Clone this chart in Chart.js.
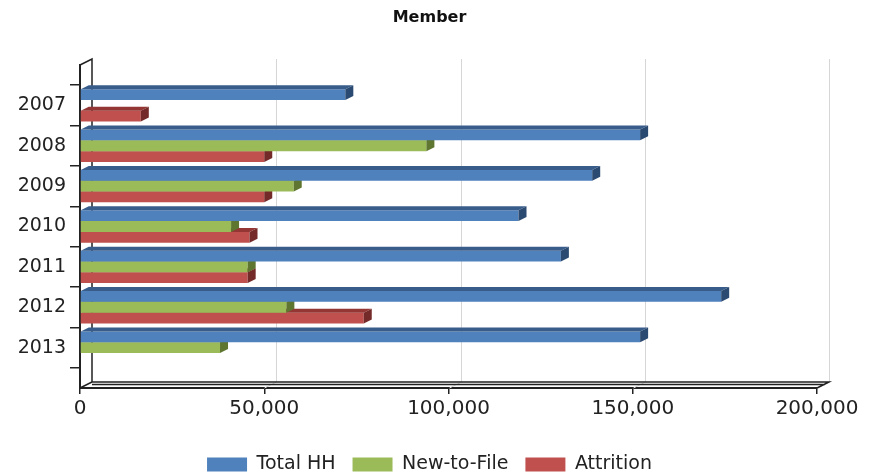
<!DOCTYPE html>
<html>
<head>
<meta charset="utf-8">
<script src="https://cdn.jsdelivr.net/npm/chart.js@4/dist/chart.umd.min.js"></script>
<style>
  html, body { margin: 0; padding: 0; background: #ffffff; }
  canvas { display: block; }
</style>
</head>
<body>
<canvas id="c" width="873" height="474"></canvas>
<script>
// Member households by year
const years = ['2007', '2008', '2009', '2010', '2011', '2012', '2013'];
const totalHH   = [72000, 152000, 139000, 119000, 130500, 174000, 152000];
const newToFile = [null,  94000,  58000,  41000,  45500,  56000,  38000];
const attrition = [16500, 50000,  50000,  46000,  45500,  77000,  null];
const xTicks = [0, 50000, 100000, 150000, 200000];

// empty slots above and below the years give the framed category axis its end ticks
const pad = arr => [null, ...arr, null];
const axisLabels = ['', ...years, ''];

const FONT = 'DejaVu Sans, Liberation Sans, Arial, sans-serif';
const TEXT = '#222222';

const palette = {
  total: { front: '#4f81bd', top: '#385d8a', side: '#2b4a71' },
  ntf:   { front: '#9bbb59', top: '#76923c', side: '#5e7630' },
  attr:  { front: '#c0504d', top: '#943634', side: '#742a28' }
};

const wallDepth = { dx: 12, dy: 6 };
const barDepth = { dx: 8, dy: 4 };

// pseudo-3D wall, floor and bar faces
const frame3d = {
  id: 'frame3d',
  beforeDatasetsDraw(chart) {
    const { ctx, chartArea: a, scales: { x } } = chart;
    const { dx, dy } = wallDepth;
    ctx.save();
    ctx.strokeStyle = '#d6d6d6';
    ctx.lineWidth = 1;
    x.ticks.forEach(t => {
      if (t.value === 0) return;
      const px = Math.round(x.getPixelForValue(t.value)) + 0.5;
      ctx.beginPath();
      ctx.moveTo(px + dx, a.top - dy);
      ctx.lineTo(px + dx, a.bottom - dy);
      ctx.lineTo(px, a.bottom);
      ctx.stroke();
    });
    ctx.strokeStyle = '#222';
    ctx.lineWidth = 1.5;
    ctx.beginPath();
    ctx.moveTo(a.left, a.top);
    ctx.lineTo(a.left + dx, a.top - dy);
    ctx.lineTo(a.left + dx, a.bottom - dy);
    ctx.lineTo(a.right + dx, a.bottom - dy);
    ctx.lineTo(a.right, a.bottom);
    ctx.moveTo(a.left, a.bottom);
    ctx.lineTo(a.left + dx, a.bottom - dy);
    ctx.moveTo(a.left + dx, a.bottom - dy + 2.5);
    ctx.lineTo(a.right + dx - 4, a.bottom - dy + 2.5);
    ctx.stroke();
    ctx.restore();
  },
  afterDatasetDraw(chart, args) {
    const { ctx } = chart;
    const ds = chart.data.datasets[args.index];
    const col = ds.faces;
    const { dx, dy } = barDepth;
    ctx.save();
    args.meta.data.forEach((el, i) => {
      const v = ds.data[i];
      if (v === null || v === undefined) return;
      const top = el.y - el.height / 2;
      const bottom = el.y + el.height / 2;
      const x0 = el.base, x1 = el.x;
      // top face
      ctx.fillStyle = col.top;
      ctx.beginPath();
      ctx.moveTo(x0, top);
      ctx.lineTo(x1, top);
      ctx.lineTo(x1 + dx, top - dy);
      ctx.lineTo(x0 + dx, top - dy);
      ctx.closePath();
      ctx.fill();
      // end face
      ctx.fillStyle = col.side;
      ctx.beginPath();
      ctx.moveTo(x1, top);
      ctx.lineTo(x1 + dx, top - dy);
      ctx.lineTo(x1 + dx, bottom - dy);
      ctx.lineTo(x1, bottom);
      ctx.closePath();
      ctx.fill();
    });
    ctx.restore();
  }
};

const chart = new Chart(document.getElementById('c'), {
  type: 'bar',
  data: {
    labels: axisLabels,
    datasets: [
      { label: 'Total HH', data: pad(totalHH), backgroundColor: palette.total.front, faces: palette.total },
      { label: 'New-to-File', data: pad(newToFile), backgroundColor: palette.ntf.front, faces: palette.ntf },
      { label: 'Attrition', data: pad(attrition), backgroundColor: palette.attr.front, faces: palette.attr }
    ]
  },
  options: {
    indexAxis: 'y',
    responsive: false,
    animation: false,
    layout: { padding: { left: 12, right: 26, top: 0, bottom: -10 } },
    datasets: { bar: { categoryPercentage: 0.8, barPercentage: 1.0, borderWidth: 0 } },
    scales: {
      x: {
        type: 'linear',
        position: 'bottom',
        min: xTicks[0],
        max: xTicks[xTicks.length - 1],
        afterBuildTicks: s => { s.ticks = xTicks.map(v => ({ value: v })); },
        ticks: {
          font: { family: FONT, size: 20 },
          color: TEXT,
          padding: 3,
          maxRotation: 0,
          callback: v => Number(v).toLocaleString('en-US')
        },
        grid: { drawOnChartArea: false, tickLength: 6, color: '#222', lineWidth: 1.5 },
        border: { color: '#222', width: 2 },
        afterFit: s => { s.height = s.chart.height + 10 - s.chart.legend.height - 388; }
      },
      y: {
        type: 'category',
        offset: false,
        z: 1,
        ticks: { font: { family: FONT, size: 19 }, color: TEXT, padding: 4, autoSkip: false },
        grid: { drawOnChartArea: false, tickLength: 10, color: '#222', lineWidth: 1.5 },
        border: { color: '#222', width: 2 },
        afterFit: s => { s.width = 68; }
      },
      // blank margin to the right of the plot (room for the last tick label and wall depth)
      gutter: {
        type: 'category',
        axis: 'y',
        position: 'right',
        grid: { display: false, drawTicks: false },
        border: { display: false },
        ticks: { display: false },
        afterFit: s => { s.width = 30; }
      }
    },
    plugins: {
      title: {
        display: true,
        text: 'Member',
        color: '#111',
        font: { family: FONT, size: 16, weight: 'bold' },
        padding: { top: 8, bottom: 37.8 }
      },
      legend: {
        position: 'bottom',
        labels: {
          boxWidth: 40,
          boxHeight: 14,
          padding: 17,
          color: TEXT,
          font: { family: FONT, size: 19 }
        }
      },
      tooltip: { enabled: false }
    }
  },
  plugins: [frame3d]
});
</script>
</body>
</html>
